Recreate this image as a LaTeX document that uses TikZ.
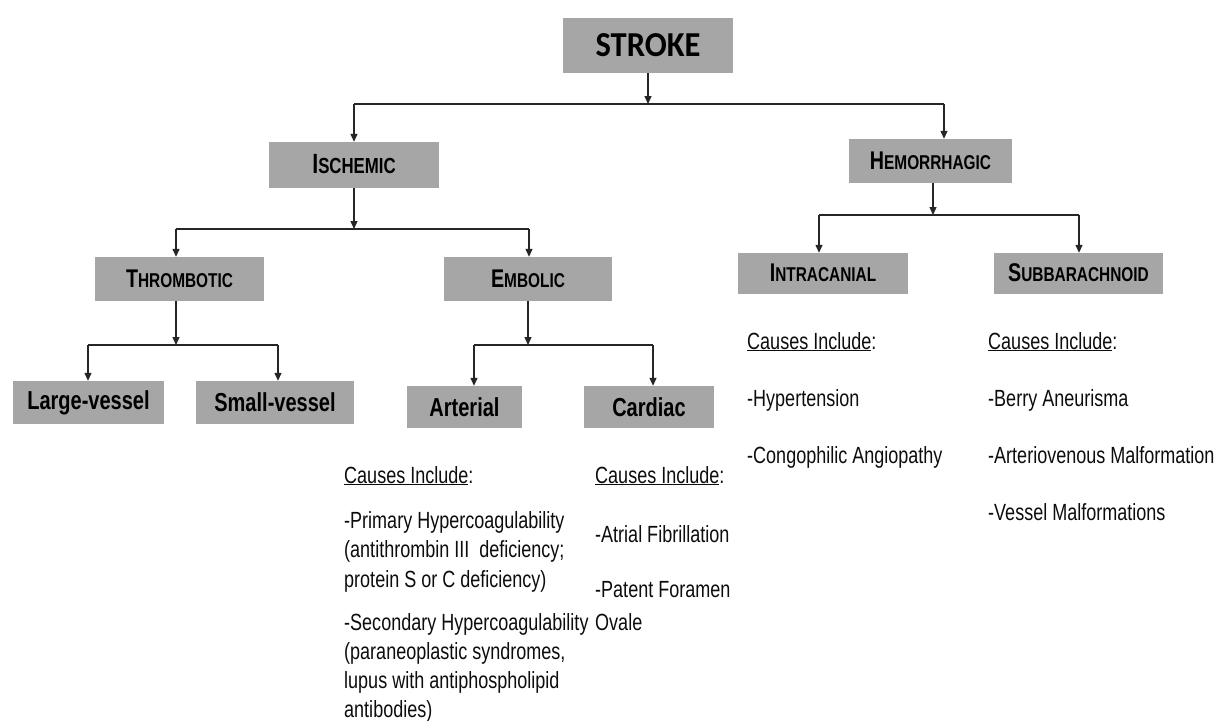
\documentclass[tikz,border=0pt]{standalone}
\usepackage{fontspec}
\setmainfont{Liberation Sans}[FakeStretch=0.77]
\newfontfamily\strokefont{Carlito}[FakeStretch=0.93]
\usetikzlibrary{arrows.meta}
\definecolor{boxgray}{RGB}{166,166,166}
\newcommand\shd[1]{\makebox[0pt][l]{\raisebox{-1.3pt}{\hspace{1.3pt}\textcolor{black!35}{#1}}}#1}
\newcommand\hdr[2]{\shd{{\fontsize{25.6}{25}\selectfont #1}{\fontsize{20}{20}\selectfont #2}}}
\newcommand\hdrbig[2]{\shd{{\fontsize{27.8}{27}\selectfont #1}{\fontsize{21.8}{21}\selectfont #2}}}
\begin{document}
\begin{tikzpicture}[x=1pt,y=-1pt,
  box/.style={fill=boxgray, draw=none, inner sep=0pt, text=black},
  lbl/.style={box, font=\bfseries\fontsize{26}{26}\selectfont},
  hd/.style={box, font=\bfseries},
  ln/.style={line width=1.3pt, draw=black!85},
  arr/.style={ln, -{Triangle[length=8pt,width=7pt]}},
  txt/.style={anchor=base west, inner sep=0pt, text=black!95, font=\fontsize{23.4}{26}\selectfont}]
\fill[white] (0,0) rectangle (1217,720);
\useasboundingbox (0,0) rectangle (1217,720);

% boxes
\node[box, minimum width=170pt, minimum height=55pt, font=\strokefont\bfseries\fontsize{35}{35}\selectfont] (stroke) at (648,45.5) {\shd{STROKE}};
\node[hd, minimum width=170pt, minimum height=46pt] (isch) at (354,165) {\hdrbig{I}{SCHEMIC}};
\node[hd, minimum width=163pt, minimum height=44pt] (hem) at (930.5,161) {\hdr{H}{EMORRHAGIC}};
\node[hd, minimum width=169pt, minimum height=44pt] (thromb) at (179.5,279) {\hdr{T}{HROMBOTIC}};
\node[hd, minimum width=168pt, minimum height=44pt] (embol) at (528,279) {\hdr{E}{MBOLIC}};
\node[hd, minimum width=170pt, minimum height=41pt] (intra) at (823,273.5) {\hdr{I}{NTRACANIAL}};
\node[hd, minimum width=169pt, minimum height=41pt] (subb) at (1078.5,273.5) {\hdr{S}{UBBARACHNOID}};
\node[lbl, minimum width=151pt, minimum height=43pt] (large) at (88.5,402.5) {Large-vessel};
\node[lbl, minimum width=158pt, minimum height=43pt] (small) at (275,402.5) {Small-vessel};
\node[lbl, minimum width=115pt, minimum height=42pt] (arter) at (464.5,407) {Arterial};
\node[lbl, minimum width=130pt, minimum height=42pt] (card) at (649,407) {Cardiac};

% connectors: stroke
\coordinate (b1m) at (648,104);
\coordinate (b1l) at (354,104);
\coordinate (b1r) at (944,104);
\draw[arr] (stroke.south) -- (b1m);
\draw[ln] (b1l) -- (b1r);
\draw[arr] (b1l) -- (b1l |- isch.north);
\draw[arr] (b1r) -- (b1r |- hem.north);

% ischemic
\coordinate (b2m) at (354,229);
\coordinate (b2l) at (176,229);
\coordinate (b2r) at (529,229);
\draw[arr] (isch.south) -- (b2m);
\draw[ln] (b2l) -- (b2r);
\draw[arr] (b2l) -- (b2l |- thromb.north);
\draw[arr] (b2r) -- (b2r |- embol.north);

% hemorrhagic
\coordinate (b3m) at (933,215);
\coordinate (b3l) at (819,215);
\coordinate (b3r) at (1079,215);
\draw[arr] (b3m |- hem.south) -- (b3m);
\draw[ln] (b3l) -- (b3r);
\draw[arr] (b3l) -- (b3l |- intra.north);
\draw[arr] (b3r) -- (b3r |- subb.north);

% thrombotic
\coordinate (b4m) at (176,345);
\coordinate (b4l) at (88,345);
\coordinate (b4r) at (278,345);
\draw[arr] (b4m |- thromb.south) -- (b4m);
\draw[ln] (b4l) -- (b4r);
\draw[arr] (b4l) -- (b4l |- large.north);
\draw[arr] (b4r) -- (b4r |- small.north);

% embolic
\coordinate (b5m) at (528,345);
\coordinate (b5l) at (474,345);
\coordinate (b5r) at (653,345);
\draw[arr] (embol.south) -- (b5m);
\draw[ln] (b5l) -- (b5r);
\draw[arr] (b5l) -- (b5l |- arter.north);
\draw[arr] (b5r) -- (b5r |- card.north);

% arterial causes
\node[txt] (ac0) at (344,483) {\underline{Causes Include}:};
\node[txt] (ac1) at (344,528) {-Primary Hypercoagulability};
\node[txt] (ac2) at (344,557) {(antithrombin III\ \ deficiency;};
\node[txt] (ac3) at (344,587) {protein S or C deficiency)};
\node[txt] (ac4) at (344,630) {-Secondary Hypercoagulability};
\node[txt] (ac5) at (344,659) {(paraneoplastic syndromes,};
\node[txt] (ac6) at (344,688) {lupus with antiphospholipid};
\node[txt] (ac7) at (344,717) {antibodies)};

% cardiac causes
\node[txt] (cc0) at (595,483) {\underline{Causes Include}:};
\node[txt] (cc1) at (595,542) {-Atrial Fibrillation};
\node[txt] (cc2) at (595,597) {-Patent Foramen};
\node[txt] (cc3) at (595,630) {Ovale};

% intracanial causes
\node[txt] (ic0) at (747,349) {\underline{Causes Include}:};
\node[txt] (ic1) at (747,406) {-Hypertension};
\node[txt] (ic2) at (747,463) {-Congophilic Angiopathy};

% subarachnoid causes
\node[txt] (sc0) at (988,349) {\underline{Causes Include}:};
\node[txt] (sc1) at (988,406) {-Berry Aneurisma};
\node[txt] (sc2) at (988,463) {-Arteriovenous Malformation};
\node[txt] (sc3) at (988,520) {-Vessel Malformations};
\end{tikzpicture}
\end{document}
